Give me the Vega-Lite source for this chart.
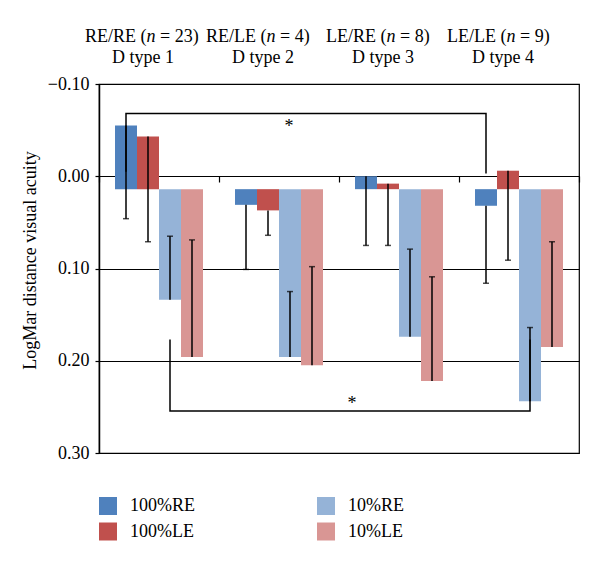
{
  "$schema": "https://vega.github.io/schema/vega-lite/v6.json",
  "autosize": "none",
  "width": 480,
  "height": 369,
  "padding": {"left": 99, "top": 84, "right": 21, "bottom": 112},
  "config": {
    "font": "Liberation Serif",
    "view": {"stroke": "black", "strokeWidth": 1.2},
    "text": {"font": "Liberation Serif", "fontSize": 18, "color": "black"},
    "axisX": {"labels": false, "ticks": true, "tickBand": "extent", "tickSize": 6, "tickColor": "black", "tickWidth": 1.2, "domain": false, "grid": false, "offset": -277}
  },
  "datasets": {
    "bars": [
      {"group": "1", "series": "100%RE", "value": -0.055, "err": 0.046},
      {"group": "1", "series": "100%LE", "value": -0.043, "err": 0.071},
      {"group": "1", "series": "10%RE", "value": 0.134, "err": 0.065},
      {"group": "1", "series": "10%LE", "value": 0.196, "err": 0.069},
      {"group": "2", "series": "100%RE", "value": 0.031, "err": 0.101},
      {"group": "2", "series": "100%LE", "value": 0.037, "err": 0.064},
      {"group": "2", "series": "10%RE", "value": 0.196, "err": 0.125},
      {"group": "2", "series": "10%LE", "value": 0.205, "err": 0.098},
      {"group": "3", "series": "100%RE", "value": 0.0, "err": 0.075},
      {"group": "3", "series": "100%LE", "value": 0.008, "err": 0.075},
      {"group": "3", "series": "10%RE", "value": 0.174, "err": 0.079},
      {"group": "3", "series": "10%LE", "value": 0.222, "err": 0.109},
      {"group": "4", "series": "100%RE", "value": 0.032, "err": 0.116},
      {"group": "4", "series": "100%LE", "value": -0.006, "err": 0.091},
      {"group": "4", "series": "10%RE", "value": 0.244, "err": 0.164},
      {"group": "4", "series": "10%LE", "value": 0.185, "err": 0.071}
    ],
    "topBracket": [
      {"group": "1", "series": "100%RE", "v": -0.005, "o": 1},
      {"group": "1", "series": "100%RE", "v": -0.068, "o": 2},
      {"group": "4", "series": "100%RE", "v": -0.068, "o": 3},
      {"group": "4", "series": "100%RE", "v": -0.003, "o": 4}
    ],
    "bottomBracket": [
      {"group": "1", "series": "10%RE", "v": 0.177, "o": 1},
      {"group": "1", "series": "10%RE", "v": 0.2545, "o": 2},
      {"group": "4", "series": "10%RE", "v": 0.2545, "o": 3},
      {"group": "4", "series": "10%RE", "v": 0.177, "o": 4}
    ],
    "topStar": [{"group": "2", "series": "10%RE", "v": -0.059, "label": "*"}],
    "bottomStar": [{"group": "3", "series": "100%RE", "v": 0.242, "label": "*"}],
    "labels": [
      {"group": "1", "a": "RE/RE (", "n": "n", "b": "= 23)", "d": "D type 1"},
      {"group": "2", "a": "RE/LE (", "n": "n", "b": "= 4)", "d": "D type 2"},
      {"group": "3", "a": "LE/RE (", "n": "n", "b": "= 8)", "d": "D type 3"},
      {"group": "4", "a": "LE/LE (", "n": "n", "b": "= 9)", "d": "D type 4"}
    ]
  },
  "layer": [
    {
      "data": {"name": "bars"},
      "mark": {"type": "bar"},
      "encoding": {
        "x": {"field": "group", "type": "nominal", "title": null,
          "scale": {"domain": ["1", "2", "3", "4"], "paddingInner": 0, "paddingOuter": 0}},
        "xOffset": {"field": "series", "type": "nominal",
          "scale": {"domain": ["100%RE", "100%LE", "10%RE", "10%LE"], "paddingInner": 0, "paddingOuter": 0.7273}},
        "y": {"field": "value", "type": "quantitative",
          "scale": {"domain": [-0.1, 0.3], "reverse": true, "nice": false, "zero": false},
          "axis": {"values": [-0.1, 0, 0.1, 0.2, 0.3], "format": ".2f", "grid": true, "gridColor": "black", "gridOpacity": 1, "gridWidth": 1.2,
            "domainColor": "black", "domainWidth": 1.5, "tickColor": "black", "tickSize": 4, "tickWidth": 1.2,
            "labelFontSize": 18, "labelColor": "black", "labelPadding": 6, "labelFont": "Liberation Serif",
            "title": "LogMar distance visual acuity", "titleFontSize": 18, "titleFontWeight": "normal", "titleColor": "black", "titleFont": "Liberation Serif",
            "titleX": -64, "titleY": 176, "titleAngle": 270, "titleAlign": "center", "titleBaseline": "alphabetic"}},
        "y2": {"datum": 0.014},
        "color": {"field": "series", "type": "nominal",
          "scale": {"domain": ["100%RE", "100%LE", "10%RE", "10%LE"], "range": ["#4F81BD", "#C0504D", "#95B3D7", "#D99694"]},
          "legend": {"orient": "none", "legendX": 0, "legendY": 413, "columns": 2, "columnPadding": 122, "rowPadding": 7.5,
            "symbolType": "square", "symbolSize": 324, "symbolStrokeWidth": 0, "symbolOpacity": 1,
            "labelFontSize": 18, "labelOffset": 13, "labelColor": "black", "labelFont": "Liberation Serif", "title": null}}
      }
    },
    {
      "data": {"name": "bars"},
      "mark": {"type": "rule", "color": "black", "strokeWidth": 1.5},
      "encoding": {
        "x": {"field": "group", "type": "nominal", "title": null, "scale": {"domain": ["1", "2", "3", "4"], "paddingInner": 0, "paddingOuter": 0}},
        "xOffset": {"field": "series", "type": "nominal", "scale": {"domain": ["100%RE", "100%LE", "10%RE", "10%LE"], "paddingInner": 0, "paddingOuter": 0.7273}},
        "y": {"field": "value", "type": "quantitative", "scale": {"domain": [-0.1, 0.3], "reverse": true, "nice": false, "zero": false}},
        "y2": {"field": "err"}
      }
    },
    {
      "data": {"name": "bars"},
      "mark": {"type": "tick", "color": "black", "size": 6, "thickness": 1.5, "orient": "horizontal"},
      "encoding": {
        "x": {"field": "group", "type": "nominal", "title": null, "scale": {"domain": ["1", "2", "3", "4"], "paddingInner": 0, "paddingOuter": 0}},
        "xOffset": {"field": "series", "type": "nominal", "scale": {"domain": ["100%RE", "100%LE", "10%RE", "10%LE"], "paddingInner": 0, "paddingOuter": 0.7273}},
        "y": {"field": "err", "type": "quantitative", "scale": {"domain": [-0.1, 0.3], "reverse": true, "nice": false, "zero": false}}
      }
    },
    {
      "data": {"name": "topBracket"},
      "mark": {"type": "line", "color": "black", "strokeWidth": 1.5, "xOffset": 4},
      "encoding": {
        "x": {"field": "group", "type": "nominal", "title": null, "scale": {"domain": ["1", "2", "3", "4"], "paddingInner": 0, "paddingOuter": 0}},
        "xOffset": {"field": "series", "type": "nominal", "scale": {"domain": ["100%RE", "100%LE", "10%RE", "10%LE"], "paddingInner": 0, "paddingOuter": 0.7273}},
        "y": {"field": "v", "type": "quantitative", "scale": {"domain": [-0.1, 0.3], "reverse": true, "nice": false, "zero": false}},
        "order": {"field": "o", "type": "quantitative"}
      }
    },
    {
      "data": {"name": "bottomBracket"},
      "mark": {"type": "line", "color": "black", "strokeWidth": 1.5, "xOffset": -3.5},
      "encoding": {
        "x": {"field": "group", "type": "nominal", "title": null, "scale": {"domain": ["1", "2", "3", "4"], "paddingInner": 0, "paddingOuter": 0}},
        "xOffset": {"field": "series", "type": "nominal", "scale": {"domain": ["100%RE", "100%LE", "10%RE", "10%LE"], "paddingInner": 0, "paddingOuter": 0.7273}},
        "y": {"field": "v", "type": "quantitative", "scale": {"domain": [-0.1, 0.3], "reverse": true, "nice": false, "zero": false}},
        "order": {"field": "o", "type": "quantitative"}
      }
    },
    {
      "data": {"name": "topStar"},
      "mark": {"type": "text", "fontSize": 18, "baseline": "middle", "align": "center", "dx": -1, "dy": 5},
      "encoding": {
        "x": {"field": "group", "type": "nominal", "title": null, "scale": {"domain": ["1", "2", "3", "4"], "paddingInner": 0, "paddingOuter": 0}},
        "xOffset": {"field": "series", "type": "nominal", "scale": {"domain": ["100%RE", "100%LE", "10%RE", "10%LE"], "paddingInner": 0, "paddingOuter": 0.7273}},
        "y": {"field": "v", "type": "quantitative", "scale": {"domain": [-0.1, 0.3], "reverse": true, "nice": false, "zero": false}},
        "text": {"field": "label"}
      }
    },
    {
      "data": {"name": "bottomStar"},
      "mark": {"type": "text", "fontSize": 18, "baseline": "middle", "align": "center", "dx": -14, "dy": 5},
      "encoding": {
        "x": {"field": "group", "type": "nominal", "title": null, "scale": {"domain": ["1", "2", "3", "4"], "paddingInner": 0, "paddingOuter": 0}},
        "xOffset": {"field": "series", "type": "nominal", "scale": {"domain": ["100%RE", "100%LE", "10%RE", "10%LE"], "paddingInner": 0, "paddingOuter": 0.7273}},
        "y": {"field": "v", "type": "quantitative", "scale": {"domain": [-0.1, 0.3], "reverse": true, "nice": false, "zero": false}},
        "text": {"field": "label"}
      }
    },
    {
      "data": {"name": "labels"},
      "mark": {"type": "text", "fontSize": 18, "baseline": "alphabetic", "align": "right", "dx": -12.5, "dy": -42},
      "encoding": {
        "x": {"field": "group", "type": "nominal", "title": null, "scale": {"domain": ["1", "2", "3", "4"], "paddingInner": 0, "paddingOuter": 0}},
        "y": {"datum": -0.1, "type": "quantitative", "scale": {"domain": [-0.1, 0.3], "reverse": true, "nice": false, "zero": false}},
        "text": {"field": "a"}
      }
    },
    {
      "data": {"name": "labels"},
      "mark": {"type": "text", "fontSize": 18, "fontStyle": "italic", "baseline": "alphabetic", "align": "left", "dx": -12.5, "dy": -42},
      "encoding": {
        "x": {"field": "group", "type": "nominal", "title": null, "scale": {"domain": ["1", "2", "3", "4"], "paddingInner": 0, "paddingOuter": 0}},
        "y": {"datum": -0.1, "type": "quantitative", "scale": {"domain": [-0.1, 0.3], "reverse": true, "nice": false, "zero": false}},
        "text": {"field": "n"}
      }
    },
    {
      "data": {"name": "labels"},
      "mark": {"type": "text", "fontSize": 18, "baseline": "alphabetic", "align": "left", "dx": 1, "dy": -42},
      "encoding": {
        "x": {"field": "group", "type": "nominal", "title": null, "scale": {"domain": ["1", "2", "3", "4"], "paddingInner": 0, "paddingOuter": 0}},
        "y": {"datum": -0.1, "type": "quantitative", "scale": {"domain": [-0.1, 0.3], "reverse": true, "nice": false, "zero": false}},
        "text": {"field": "b"}
      }
    },
    {
      "data": {"name": "labels"},
      "mark": {"type": "text", "fontSize": 18, "baseline": "alphabetic", "align": "center", "dx": -16, "dy": -21},
      "encoding": {
        "x": {"field": "group", "type": "nominal", "title": null, "scale": {"domain": ["1", "2", "3", "4"], "paddingInner": 0, "paddingOuter": 0}},
        "y": {"datum": -0.1, "type": "quantitative", "scale": {"domain": [-0.1, 0.3], "reverse": true, "nice": false, "zero": false}},
        "text": {"field": "d"}
      }
    }
  ]
}
